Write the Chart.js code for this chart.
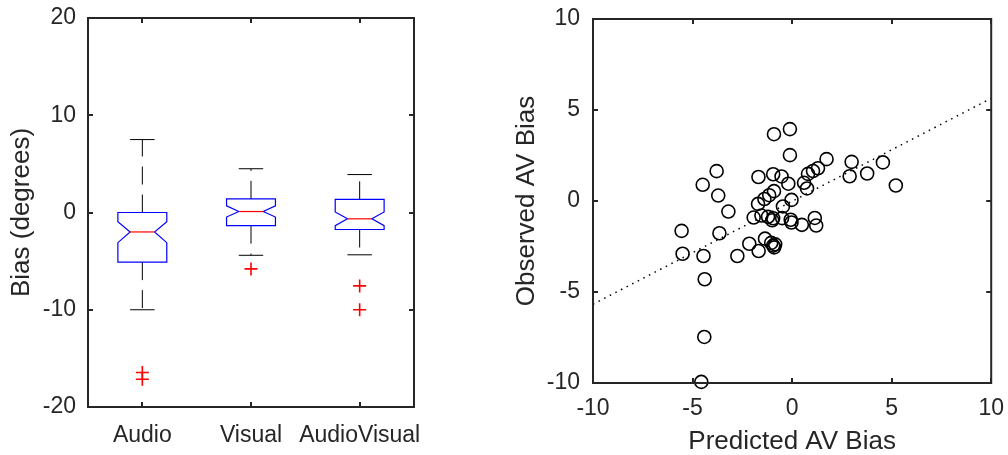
<!DOCTYPE html>
<html>
<head>
<meta charset="utf-8">
<script src="https://cdn.jsdelivr.net/npm/chart.js@4/dist/chart.umd.min.js"></script>
<style>
  body { margin: 0; background: #fff; }
  canvas { position: absolute; top: 0; }
</style>
</head>
<body>
<canvas id="grafico-box" width="440" height="455" style="left:0"></canvas>
<canvas id="grafico-scatter" width="508" height="455" style="left:500px"></canvas>
<script>
// left panel: notched boxplot
const categories = ['Audio', 'Visual', 'AudioVisual'];
const medians    = [-2.0, 0.1, -0.65];
const q1         = [-5.1, -1.35, -1.75];
const q3         = [0.0, 1.4, 1.35];
const notchLo    = [-3.1, -0.47, -1.35];
const notchHi    = [-0.95, 0.68, 0.05];
const whiskerLo  = [-10.0, -4.4, -4.35];
const whiskerHi  = [7.5, 4.5, 3.9];
const outliers   = [[-16.45, -17.15], [-5.8], [-7.55, -10.0]];
const boxTicks   = [-20, -10, 0, 10, 20];

// right panel: predicted vs observed
const predicted = [-0.91, -0.11, -0.11, 1.73, -3.79, -4.49, -3.71, -3.20, -5.55, -3.65,
  -5.50, -4.45, -2.75, -2.15, -1.68, -1.36, -1.05, -0.95, -0.85, -0.90,
  -1.69, -0.95, -0.53, -0.19, 0.80, 1.05, 1.30, 0.60, 0.75, -0.91,
  -1.15, -1.39, -1.71, -0.03, -0.46, -1.93, -1.54, -1.21, -1.00, -0.95,
  -0.50, -0.07, -0.03, 0.49, 1.14, 1.21, 2.99, 2.89, 3.77, 4.56,
  5.21, -4.39, -4.41, -4.56];
const observed = [3.67, 3.95, 2.52, 2.30, 1.64, 0.89, 0.30, -0.58, -1.64, -1.77,
  -2.90, -3.02, -3.02, -2.35, -2.75, -2.07, -2.30, -2.45, -2.38, -2.55,
  1.32, 1.47, 1.35, 0.95, 1.49, 1.65, 1.80, 1.00, 0.69, 0.54,
  0.32, 0.11, -0.16, 0.06, -0.30, -0.91, -0.80, -0.87, -1.06, -0.95,
  -0.94, -1.03, -1.18, -1.31, -0.93, -1.35, 2.15, 1.36, 1.51, 2.12,
  0.85, -4.30, -7.47, -9.94];
const fitX = [-10, 10];
const fitY = [-5.67, 5.64];
const scatterTicks = [-10, -5, 0, 5, 10];

const AXIS = '#262626';
const FONT = "'Liberation Sans', Arial, sans-serif";
const TICK_FONT = { family: FONT, size: 23 };
const TITLE_FONT = { family: FONT, size: 26, lineHeight: 1 };
const BOX_W = 0.45;

// frame + inward ticks on all four sides, MATLAB style
const framePlugin = {
  id: 'frame',
  afterDraw(chart) {
    const {ctx, chartArea: a, scales: {x, y}} = chart;
    const len = 5;
    ctx.save();
    ctx.strokeStyle = AXIS;
    ctx.lineWidth = 2;
    ctx.beginPath();
    x.ticks.forEach(t => {
      const px = Math.round(x.getPixelForValue(t.value));
      ctx.moveTo(px, a.bottom); ctx.lineTo(px, a.bottom - len);
      ctx.moveTo(px, a.top); ctx.lineTo(px, a.top + len);
    });
    y.ticks.forEach(t => {
      const py = Math.round(y.getPixelForValue(t.value));
      ctx.moveTo(a.left, py); ctx.lineTo(a.left + len, py);
      ctx.moveTo(a.right, py); ctx.lineTo(a.right - len, py);
    });
    ctx.stroke();
    ctx.strokeRect(a.left, a.top, a.right - a.left, a.bottom - a.top);
    ctx.restore();
  }
};

const boxPlugin = {
  id: 'boxes',
  beforeDatasetsDraw(chart) {
    const {ctx, scales: {x, y}} = chart;
    ctx.save();
    categories.forEach((c, i) => {
      const xc = x.getPixelForValue(i);
      const hw = x.getPixelForValue(i + BOX_W / 2) - xc;
      const Y = v => y.getPixelForValue(v);

      // whiskers (dashed, drawn outward from the box) and caps
      ctx.strokeStyle = '#000';
      ctx.lineWidth = 1;
      ctx.setLineDash([18, 10]);
      ctx.beginPath();
      ctx.moveTo(xc, Y(q3[i])); ctx.lineTo(xc, Y(whiskerHi[i]));
      ctx.stroke();
      ctx.beginPath();
      ctx.moveTo(xc, Y(q1[i])); ctx.lineTo(xc, Y(whiskerLo[i]));
      ctx.stroke();
      ctx.setLineDash([]);
      ctx.beginPath();
      ctx.moveTo(xc - hw / 2, Y(whiskerHi[i])); ctx.lineTo(xc + hw / 2, Y(whiskerHi[i]));
      ctx.moveTo(xc - hw / 2, Y(whiskerLo[i])); ctx.lineTo(xc + hw / 2, Y(whiskerLo[i]));
      ctx.stroke();

      // notched box
      ctx.strokeStyle = '#0000ff';
      ctx.lineWidth = 1.2;
      ctx.beginPath();
      ctx.moveTo(xc - hw, Y(q3[i]));
      ctx.lineTo(xc + hw, Y(q3[i]));
      ctx.lineTo(xc + hw, Y(notchHi[i]));
      ctx.lineTo(xc + hw / 2, Y(medians[i]));
      ctx.lineTo(xc + hw, Y(notchLo[i]));
      ctx.lineTo(xc + hw, Y(q1[i]));
      ctx.lineTo(xc - hw, Y(q1[i]));
      ctx.lineTo(xc - hw, Y(notchLo[i]));
      ctx.lineTo(xc - hw / 2, Y(medians[i]));
      ctx.lineTo(xc - hw, Y(notchHi[i]));
      ctx.closePath();
      ctx.stroke();

      // median
      ctx.strokeStyle = '#ff0000';
      ctx.beginPath();
      ctx.moveTo(xc - hw / 2, Y(medians[i]));
      ctx.lineTo(xc + hw / 2, Y(medians[i]));
      ctx.stroke();
    });
    ctx.restore();
  }
};

const outlierPoints = [];
outliers.forEach((list, i) => list.forEach(v => outlierPoints.push({x: categories[i], y: v})));

new Chart(document.getElementById('grafico-box'), {
  type: 'scatter',
  data: {
    labels: categories,
    datasets: [{
      data: outlierPoints,
      pointStyle: 'cross',
      pointRadius: 6.5,
      borderColor: '#ff0000',
      borderWidth: 1.6
    }]
  },
  options: {
    responsive: false,
    animation: false,
    layout: { padding: { left: 0, top: 18, right: 26, bottom: 0 } },
    plugins: { legend: { display: false }, tooltip: { enabled: false } },
    scales: {
      x: {
        type: 'category',
        labels: categories,
        offset: true,
        grid: { display: false },
        border: { display: false },
        ticks: { color: AXIS, font: TICK_FONT, padding: 7, maxRotation: 0, autoSkip: false },
        afterFit: s => { s.height = 48; }
      },
      y: {
        min: -20, max: 20,
        afterBuildTicks: s => { s.ticks = boxTicks.map(v => ({value: v})); },
        grid: { display: false },
        border: { display: false },
        ticks: { color: AXIS, font: TICK_FONT, padding: 4 },
        title: { display: true, text: 'Bias (degrees)', color: AXIS,
                 font: TITLE_FONT, padding: { top: 9, bottom: 0 } },
        afterFit: s => { s.width = 88; }
      }
    }
  },
  plugins: [boxPlugin, framePlugin]
});

new Chart(document.getElementById('grafico-scatter'), {
  type: 'scatter',
  data: {
    datasets: [{
      data: predicted.map((v, i) => ({x: v, y: observed[i]})),
      pointStyle: 'circle',
      pointRadius: 6.5,
      borderColor: '#000',
      backgroundColor: 'rgba(0,0,0,0)',
      borderWidth: 1.6,
      clip: false,
      order: 2
    }, {
      type: 'line',
      data: fitX.map((v, i) => ({x: v, y: fitY[i]})),
      borderColor: '#000',
      borderWidth: 1.5,
      borderDash: [1.5, 4.8],
      pointRadius: 0,
      fill: false,
      order: 1
    }]
  },
  options: {
    responsive: false,
    animation: false,
    layout: { padding: { left: 0, top: 19, right: 13, bottom: 0 } },
    plugins: { legend: { display: false }, tooltip: { enabled: false } },
    scales: {
      x: {
        min: -10, max: 10,
        afterBuildTicks: s => { s.ticks = scatterTicks.map(v => ({value: v})); },
        grid: { display: false },
        border: { display: false },
        ticks: { color: AXIS, font: TICK_FONT, padding: 4 },
        title: { display: true, text: 'Predicted AV Bias', color: AXIS,
                 font: TITLE_FONT, padding: { top: 0, bottom: 0 } },
        afterFit: s => { s.height = 72; }
      },
      y: {
        min: -10, max: 10,
        afterBuildTicks: s => { s.ticks = scatterTicks.map(v => ({value: v})); },
        grid: { display: false },
        border: { display: false },
        ticks: { color: AXIS, font: TICK_FONT, padding: 5 },
        title: { display: true, text: 'Observed AV Bias', color: AXIS,
                 font: TITLE_FONT, padding: { top: 14, bottom: 0 } },
        afterFit: s => { s.width = 93; }
      }
    }
  },
  plugins: [framePlugin]
});
</script>
</body>
</html>
